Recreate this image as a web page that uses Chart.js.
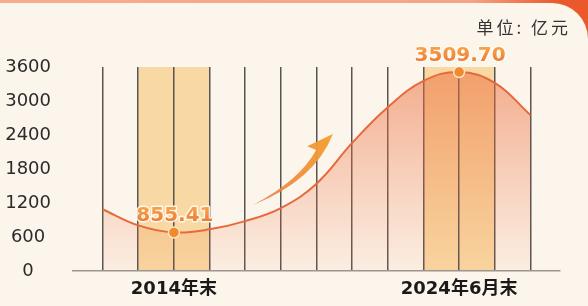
<!DOCTYPE html>
<html>
<head>
<meta charset="utf-8">
<script src="https://cdn.jsdelivr.net/npm/chart.js@4.4.1/dist/chart.umd.min.js"></script>
<style>
    html, body { margin: 0; padding: 0; }
    #wrap {
        position: relative; width: 588px; height: 306px; overflow: hidden;
        background: linear-gradient(to right, #f6ad8f 0%, #f5a585 80%, #e9592b 95%);
    }
    #panel {
        position: absolute; left: 0; top: 3px; width: 588px; height: 303px;
        background: #fcf5eb; border-top-right-radius: 36px;
    }
    #chart { position: absolute; left: 0; top: 0; }
</style>
</head>
<body>
<div id="wrap">
    <div id="panel"></div>
    <canvas id="chart" width="588" height="306"></canvas>
</div>
<script>
// 余额数据（亿元），按竖线逐格读取
const xLabels = ['', '', '2014年末', '', '', '', '', '', '', '', '2024年6月末', '', ''];
const balance = [1090, 805, 680, 735, 880, 1110, 1540, 2260, 2890, 3355, 3512, 3320, 2753];
const yTicks = [0, 600, 1200, 1800, 2400, 3000, 3600];
// 标注点
const markIndex = [2, 10];
const markText = ['855.41', '3509.70'];
// 高亮区间（按类目序号）
const bands = [[1, 3], [9, 11]];

const FONT = '"DejaVu Sans", "Noto Sans CJK SC", sans-serif';

const decorPlugin = {
    id: 'decor',
    beforeDraw(chart) {
        const { ctx, chartArea: a, scales: { x } } = chart;
        ctx.save();
        // 高亮背景列
        ctx.fillStyle = '#f9d9a3';
        bands.forEach(b => {
            const l = x.getPixelForValue(b[0]);
            const r = x.getPixelForValue(b[1]);
            ctx.fillRect(l, a.top, r - l, a.bottom - a.top);
        });
        // 单位
        ctx.font = '17px "Noto Sans CJK SC"';
        ctx.fillStyle = '#333';
        ctx.textAlign = 'right';
        ctx.textBaseline = 'middle';
        ctx.letterSpacing = '3px';
        ctx.fillText('单位: 亿元', 571, 28);
        ctx.restore();
    },
    afterDatasetsDraw(chart) {
        const { ctx, scales: { x, y } } = chart;
        const p = (i, v) => [x.getPixelForValue(i), y.getPixelForValue(v)];
        ctx.save();

        // 上升箭头
        const tail = p(4.22, 1165), outerC = p(5.96, 1606), tip = p(6.46, 2418);
        const wing = p(5.74, 2200), notch = p(5.99, 2135), innerC = p(5.54, 1606);
        const ag = ctx.createLinearGradient(tail[0], tail[1], tip[0], tip[1]);
        ag.addColorStop(0, 'rgba(233,118,62,0.85)');
        ag.addColorStop(1, '#f5a233');
        ctx.fillStyle = ag;
        ctx.beginPath();
        ctx.moveTo(tail[0], tail[1]);
        ctx.quadraticCurveTo(outerC[0], outerC[1], tip[0], tip[1]);
        ctx.lineTo(wing[0], wing[1]);
        ctx.lineTo(notch[0], notch[1]);
        ctx.quadraticCurveTo(innerC[0], innerC[1], tail[0], tail[1]);
        ctx.closePath();
        ctx.fill();

        // 数值标注
        const meta = chart.getDatasetMeta(0);
        ctx.font = 'bold 20px ' + FONT;
        ctx.textAlign = 'center';
        ctx.textBaseline = 'middle';
        ctx.lineJoin = 'round';
        markIndex.forEach((idx, k) => {
            const pt = meta.data[idx];
            const ty = pt.y - 16.5;
            const g = ctx.createLinearGradient(0, ty - 8, 0, ty + 8);
            g.addColorStop(0, '#f6a24a');
            g.addColorStop(1, '#ea7632');
            ctx.lineWidth = 3;
            ctx.strokeStyle = 'rgba(255,250,242,0.9)';
            ctx.strokeText(markText[k], pt.x + 1, ty);
            ctx.fillStyle = g;
            ctx.fillText(markText[k], pt.x + 1, ty);
        });
        ctx.restore();
    }
};

const ctx = document.getElementById('chart').getContext('2d');
new Chart(ctx, {
    type: 'line',
    data: {
        datasets: [{
            data: balance.map((v, i) => ({ x: i, y: v })),
            borderColor: '#e8683e',
            borderWidth: 2,
            tension: 0.4,
            fill: 'origin',
            backgroundColor(c) {
                const a = c.chart.chartArea;
                if (!a) return 'rgba(0,0,0,0)';
                const g = c.chart.ctx.createLinearGradient(0, a.top, 0, a.bottom);
                g.addColorStop(0, 'rgba(236,110,60,0.55)');
                g.addColorStop(0.6, 'rgba(236,110,60,0.24)');
                g.addColorStop(1, 'rgba(236,110,60,0.05)');
                return g;
            },
            pointRadius: c => markIndex.includes(c.dataIndex) ? 5.5 : 0,
            pointBackgroundColor: '#f18a2c',
            pointBorderColor: '#fde3c4',
            pointBorderWidth: 1.5
        }]
    },
    options: {
        responsive: false,
        animation: false,
        layout: { padding: { top: 67, right: 28, left: 0, bottom: 0 } },
        scales: {
            x: {
                type: 'linear',
                min: -0.83,
                max: 12.83,
                afterBuildTicks: s => { s.ticks = xLabels.map((l, i) => ({ value: i })); },
                afterFit: s => { s.height = 35; },
                grid: { color: '#5a5553', lineWidth: 1.5, drawTicks: false },
                border: { display: true, color: '#9b9590', width: 1.5 },
                ticks: {
                    autoSkip: false,
                    maxRotation: 0,
                    padding: 8,
                    color: '#1a1a1a',
                    font: { family: FONT, size: 18, weight: 'bold' },
                    callback: (v, i) => xLabels[i]
                }
            },
            y: {
                min: 0,
                max: 3600,
                afterBuildTicks: s => { s.ticks = yTicks.map(v => ({ value: v })); },
                afterFit: s => { s.width = 73; },
                grid: { display: false, drawTicks: false },
                border: { display: false },
                ticks: {
                    crossAlign: 'center',
                    padding: 22,
                    color: '#2b2b2b',
                    font: { family: FONT, size: 18 },
                    callback: v => String(v)
                }
            }
        },
        plugins: {
            legend: { display: false },
            tooltip: { enabled: false }
        }
    },
    plugins: [decorPlugin]
});
</script>
</body>
</html>
